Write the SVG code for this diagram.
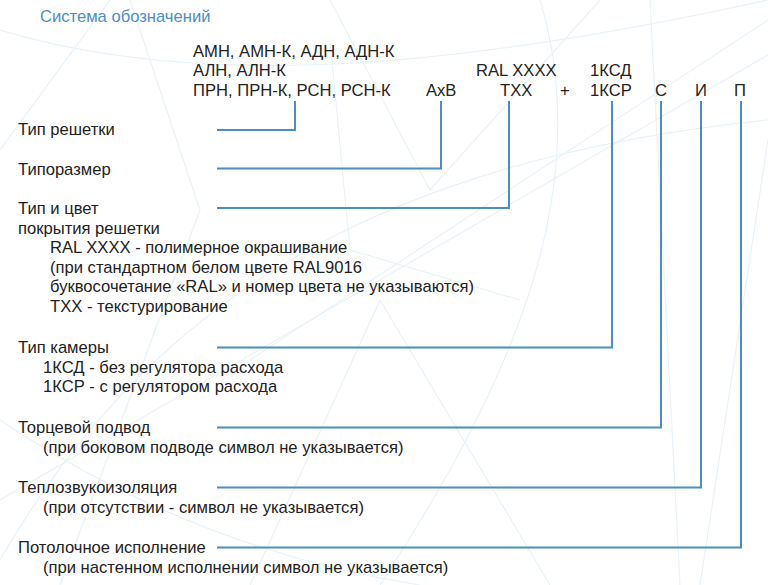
<svg xmlns="http://www.w3.org/2000/svg" width="768" height="585" viewBox="0 0 768 585">
<style>
text{font-family:"Liberation Sans",Arial,sans-serif;font-size:16.6px;fill:#222}
.title{fill:#4a8fc4}
.conn{fill:none;stroke:#4a8fc0;stroke-width:2}
.bg{fill:none;stroke:#e8f2f9;stroke-width:1.2}
</style>
<rect width="768" height="585" fill="#fff"/>
<g id="background" class="bg">
<path d="M0,150 L110,0"/>
<path d="M60,585 L200,210 L130,0"/>
<path d="M0,560 C150,300 380,160 768,120"/>
<path d="M250,585 L380,300 L550,585"/>
<path d="M330,0 L430,190 L600,0"/>
<path d="M540,0 C600,200 500,400 380,585"/>
<path d="M768,20 L250,360"/>
<path d="M768,55 L0,500"/>
<path d="M650,0 L680,585"/>
<path d="M0,30 C200,90 450,70 768,0"/>
<path d="M0,420 C120,500 260,560 420,585"/>
<path d="M768,140 L700,585"/>
<path d="M330,40 L350,250 L520,300"/>
</g>
<text class="title" x="40" y="22" font-size="14.8">Система обозначений</text>
<g id="header">
<text x="193" y="57">АМН, АМН-К, АДН, АДН-К</text>
<text x="193" y="76">АЛН, АЛН-К</text>
<text x="193" y="96">ПРН, ПРН-К, РСН, РСН-К</text>
<text x="426" y="96">AxB</text>
<text x="476" y="76">RAL XXXX</text>
<text x="500" y="96">TXX</text>
<text x="560" y="96">+</text>
<text x="590" y="76">1КСД</text>
<text x="590" y="96">1КСР</text>
<text x="655" y="96">С</text>
<text x="695" y="96">И</text>
<text x="734" y="96">П</text>
</g>
<g id="connectors" class="conn">
<path d="M217,130 H295 V101"/>
<path d="M217,168.5 H441 V101"/>
<path d="M217,208 H509 V101"/>
<path d="M217,347.5 H612 V101"/>
<path d="M217,427.5 H661 V101"/>
<path d="M217,487.5 H701 V101"/>
<path d="M217,547.5 H741 V101"/>
</g>
<g id="node-type">
<text x="18" y="135">Тип решетки</text>
</g>
<g id="node-size">
<text x="18" y="175">Типоразмер</text>
</g>
<g id="node-coating">
<text x="18" y="214">Тип и цвет</text>
<text x="18" y="233.5">покрытия решетки</text>
<text x="50" y="253">RAL XXXX - полимерное окрашивание</text>
<text x="50" y="272.5">(при стандартном белом цвете RAL9016</text>
<text x="50" y="292">буквосочетание «RAL» и номер цвета не указываются)</text>
<text x="50" y="311.5">TXX - текстурирование</text>
</g>
<g id="node-chamber">
<text x="18" y="353">Тип камеры</text>
<text x="43" y="372.5">1КСД - без регулятора расхода</text>
<text x="43" y="392">1КСР - с регулятором расхода</text>
</g>
<g id="node-end">
<text x="18" y="433">Торцевой подвод</text>
<text x="43" y="452.5">(при боковом подводе символ не указывается)</text>
</g>
<g id="node-insulation">
<text x="18" y="493">Теплозвукоизоляция</text>
<text x="43" y="512.5">(при отсутствии - символ не указывается)</text>
</g>
<g id="node-ceiling">
<text x="18" y="553">Потолочное исполнение</text>
<text x="43" y="572.5">(при настенном исполнении символ не указывается)</text>
</g>
</svg>
